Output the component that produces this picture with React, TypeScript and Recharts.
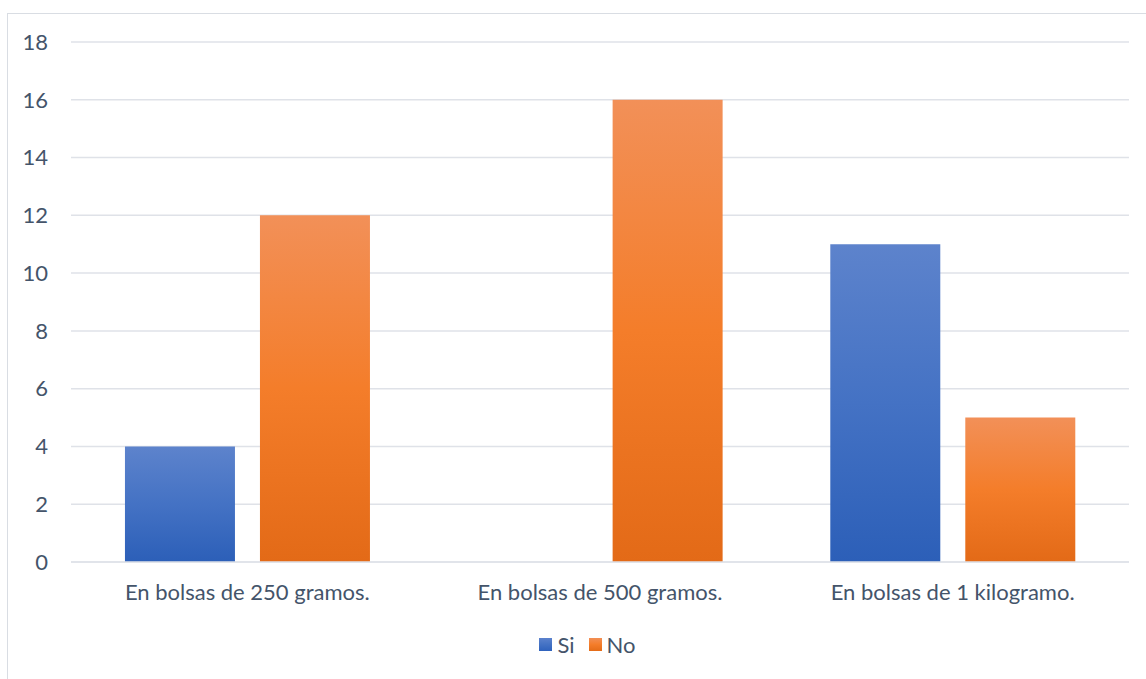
import React from 'react';
import { BarChart, Bar, XAxis, YAxis, CartesianGrid, Legend } from 'recharts';

const categories = ['En bolsas de 250 gramos.', 'En bolsas de 500 gramos.', 'En bolsas de 1 kilogramo.'];
const siValues = [4, 0, 11];
const noValues = [12, 16, 5];
const yTicks = [0, 2, 4, 6, 8, 10, 12, 14, 16, 18];

const data = categories.map((name, i) => ({ name, si: siValues[i], no: noValues[i] }));

const textColor = '#44546a';
const font = 'Lato, sans-serif';

const LegendContent = () => (
  <div style={{ display: 'flex', justifyContent: 'center', alignItems: 'center', fontFamily: font, fontSize: 22, color: textColor, height: 40, paddingLeft: 46, paddingTop: 4, boxSizing: 'border-box' }}>
    <span style={{ width: 13, height: 13, background: 'linear-gradient(#5b82cd, #4472c4, #2f62bd)', marginRight: 5 }} />
    <span style={{ marginRight: 14 }}>Si</span>
    <span style={{ width: 13, height: 13, background: 'linear-gradient(#f28f55, #f47d2a, #e46c18)', marginRight: 5 }} />
    <span>No</span>
  </div>
);

export default function App() {
  return (
    <div style={{ position: 'absolute', left: 0, top: 0, width: 1146, height: 679, overflow: 'hidden', background: '#fff' }}>
      <div style={{ position: 'absolute', left: 7, top: 13, width: 1160, height: 700, border: '1px solid #d9dde3' }} />
      <div style={{ position: 'absolute', left: 0, top: 0 }}>
        <BarChart
          width={1146}
          height={679}
          data={data}
          margin={{ top: 42, right: 17, left: 0, bottom: 17 }}
          barCategoryGap="15.3%"
          barGap={25}
        >
          <defs>
            <linearGradient id="gSi" x1="0" y1="0" x2="0" y2="1">
              <stop offset="0%" stopColor="#5d83cc" />
              <stop offset="50%" stopColor="#4472c4" />
              <stop offset="100%" stopColor="#2c5fb8" />
            </linearGradient>
            <linearGradient id="gNo" x1="0" y1="0" x2="0" y2="1">
              <stop offset="0%" stopColor="#f29058" />
              <stop offset="50%" stopColor="#f47d2a" />
              <stop offset="100%" stopColor="#e36a17" />
            </linearGradient>
          </defs>
          <CartesianGrid vertical={false} stroke="#dfe2e8" strokeWidth={1.5} />
          <XAxis
            dataKey="name"
            height={60}
            axisLine={{ stroke: '#dfe2e8', strokeWidth: 1.5 }}
            tickLine={false}
            tickSize={0}
            tickMargin={22}
            tick={{ fill: textColor, fontSize: 22, fontFamily: font }}
            interval={0}
          />
          <YAxis
            width={71}
            domain={[0, 18]}
            ticks={yTicks}
            axisLine={false}
            tickLine={false}
            tickSize={0}
            tickMargin={23}
            tick={{ fill: textColor, fontSize: 22, fontFamily: font }}
          />
          <Legend verticalAlign="bottom" height={40} content={<LegendContent />} />
          <Bar dataKey="si" name="Si" fill="url(#gSi)" isAnimationActive={false} />
          <Bar dataKey="no" name="No" fill="url(#gNo)" isAnimationActive={false} />
        </BarChart>
      </div>
    </div>
  );
}
